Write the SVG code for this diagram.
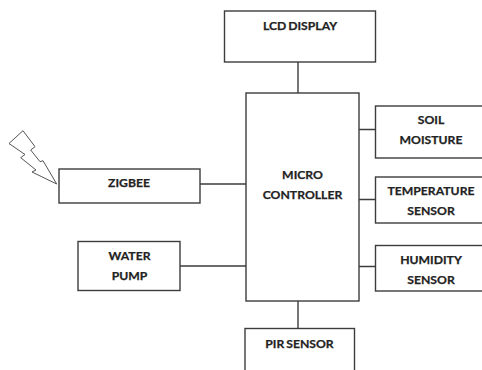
<svg xmlns="http://www.w3.org/2000/svg" width="482" height="370" viewBox="0 0 482 370">
<style>
.b{fill:#fff;stroke:#3c3c3c;stroke-width:1.4}
.c{fill:none;stroke:#3c3c3c;stroke-width:1.4}
.s{fill:none;stroke:#555;stroke-width:1}
.t{font-family:Lato,"Liberation Sans",sans-serif;font-weight:700;font-size:12.2px;word-spacing:-1px;fill:#222;stroke:#222;stroke-width:.25;text-anchor:middle}
</style>
<rect width="482" height="370" fill="#fff"/>
<g id="connectors">
<path class="c" d="M298 62V93M298 301V328.500M359 129.500H375.500M359 199.500H375.500M359 266.500H375.500M200 184H246M180 266H246"/>
</g>
<g id="lcd"><rect class="b" x="224.500" y="11" width="151" height="51"/><text class="t" x="300" y="30">LCD DISPLAY</text></g>
<g id="controller"><rect class="b" x="246" y="93" width="113" height="208"/><text class="t" x="302.500" y="179">MICRO</text><text class="t" x="302.500" y="199">CONTROLLER</text></g>
<g id="soil"><rect class="b" x="375.500" y="106" width="120" height="52"/><text class="t" x="431" y="124">SOIL</text><text class="t" x="431" y="143.500">MOISTURE</text></g>
<g id="temperature"><rect class="b" x="375.500" y="177" width="120" height="46"/><text class="t" x="431" y="195">TEMPERATURE</text><text class="t" x="431" y="215">SENSOR</text></g>
<g id="humidity"><rect class="b" x="375.500" y="245.500" width="120" height="45.500"/><text class="t" x="431" y="264">HUMIDITY</text><text class="t" x="431" y="283.500">SENSOR</text></g>
<g id="zigbee"><rect class="b" x="59" y="169" width="141" height="34"/><text class="t" x="129" y="187">ZIGBEE</text></g>
<g id="pump"><rect class="b" x="78" y="241.500" width="102" height="49"/><text class="t" x="129.500" y="260">WATER</text><text class="t" x="129.500" y="279.500">PUMP</text></g>
<g id="pir"><rect class="b" x="245" y="328.500" width="109.500" height="50"/><text class="t" x="299.500" y="347.500">PIR SENSOR</text></g>
<g id="signal"><path class="s" d="M23 130.700L9 143.500L25 154.500L20.700 157.700L36 170L32 172L56.700 184L43 160.700L40 161.700L30.700 150L35 146.700Z"/></g>
</svg>
